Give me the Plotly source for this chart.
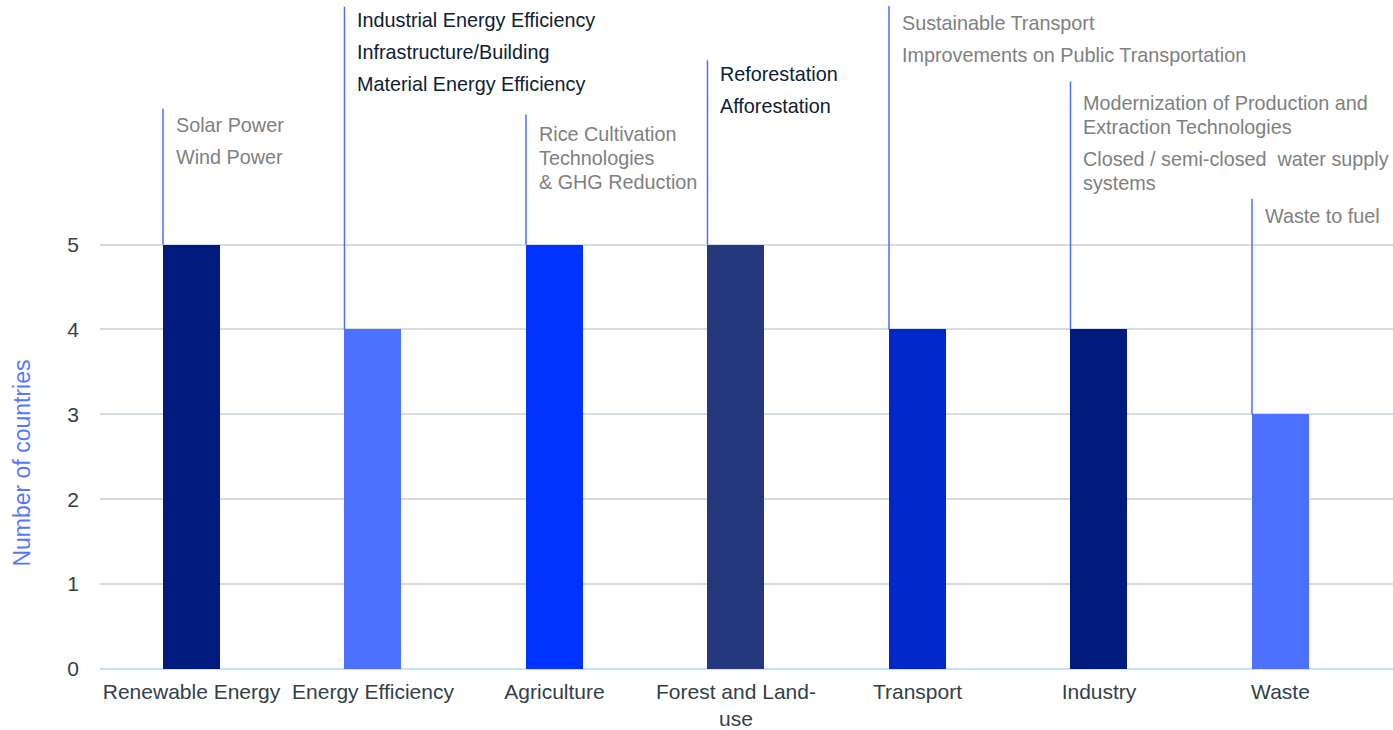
import plotly.graph_objects as go

categories = ["Renewable Energy", "Energy Efficiency", "Agriculture", "Forest and Land-<br>use",
              "Transport", "Industry", "Waste"]
countries = [5, 4, 5, 5, 4, 4, 3]
bar_colors = ["#001a7d", "#4d70ff", "#0033ff", "#26387d", "#0029cc", "#001a7d", "#4d70ff"]
leader_tops = [6.60, 7.80, 6.53, 7.17, 7.81, 6.92, 5.54]
measures = [
    ["Solar Power", "Wind Power"],
    ["Industrial Energy Efficiency", "Infrastructure/Building", "Material Energy Efficiency"],
    ["Rice Cultivation\nTechnologies\n& GHG Reduction"],
    ["Reforestation", "Afforestation"],
    ["Sustainable Transport", "Improvements on Public Transportation"],
    ["Modernization of Production and\nExtraction Technologies", "Closed / semi-closed  water supply\nsystems"],
    ["Waste to fuel"],
]
measure_colors = ["#808080", "#0d2133", "#808080", "#0d2133", "#808080", "#808080", "#808080"]
first_offsets = [16, 13, 19, 14, 17, 21, 17]

FONT = "Liberation Sans, Arial, sans-serif"
BAR_W = 0.314
idx = list(range(len(categories)))

fig = go.Figure()
fig.add_trace(go.Bar(x=idx, y=countries, width=BAR_W, marker=dict(color=bar_colors, line=dict(width=0)),
                     showlegend=False, hoverinfo="skip"))

for i in idx:
    lx = i - BAR_W / 2
    fig.add_trace(go.Scatter(x=[lx, lx], y=[countries[i], leader_tops[i]], mode="lines",
                             line=dict(color="#4d6fff", width=1.5), showlegend=False, hoverinfo="skip"))
    off = first_offsets[i]
    for item in measures[i]:
        parts = item.split("\n")
        for k, p in enumerate(parts):
            fig.add_annotation(x=lx, y=leader_tops[i], xref="x", yref="y", text=p, showarrow=False,
                               xanchor="left", yanchor="middle", xshift=11, yshift=-off,
                               font=dict(family=FONT, size=19.8, color=measure_colors[i]))
            off += 24 if k < len(parts) - 1 else 32

fig.add_annotation(x=0, y=0.307, xref="paper", yref="paper", text="Number of countries", showarrow=False,
                   textangle=-90, xanchor="center", yanchor="middle", xshift=-78,
                   font=dict(family=FONT, size=23, color="#5577ff"))

fig.update_layout(
    width=1393, height=730, margin=dict(l=100, r=0, t=0, b=57),
    plot_bgcolor="white", paper_bgcolor="white", bargap=0,
    font=dict(family=FONT, size=20, color="#333f48"),
    xaxis=dict(range=[-0.504, 6.62], tickvals=idx, ticktext=categories, showgrid=False,
               zeroline=False, showline=False, ticks="", ticklabelstandoff=8,
               tickfont=dict(size=21, color="#333f48")),
    yaxis=dict(range=[0, 7.88], tickvals=[0, 1, 2, 3, 4, 5], showgrid=True, gridcolor="#d3dde5",
               gridwidth=1.5, zeroline=True, zerolinecolor="#c0e4f8", zerolinewidth=2,
               ticks="", ticklabelstandoff=20, tickfont=dict(size=21, color="#333f48")),
)

fig.write_html("out.html", config={"displayModeBar": False},
               post_script="document.body.style.margin='0';")
